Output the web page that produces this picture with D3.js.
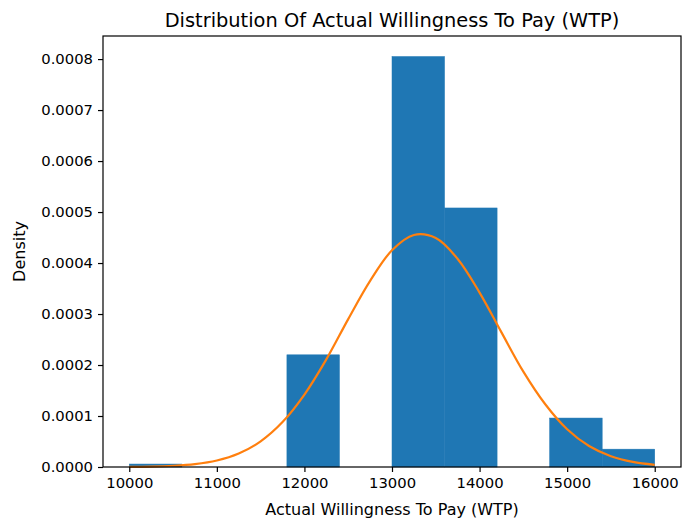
<!DOCTYPE html>
<html>
<head>
<meta charset="utf-8">
<script src="https://cdn.jsdelivr.net/npm/d3@7"></script>
<style>
  body { margin: 0; background: #fff; }
  svg text { font-family: "DejaVu Sans", sans-serif; }
  .tick text { font-size: 14.8px; fill: #000; }
  .tick line, .domain { stroke: #000; }
</style>
</head>
<body>
<div id="chart"></div>
<script>
// histogram bins (edges, width 600) and density heights
var binEdges = [10000, 10600, 11200, 11800, 12400, 13000, 13600, 14200, 14800, 15400, 16000];
var binDensity = [0.0000058, 0, 0, 0.00022, 0, 0.000805, 0.000508, 0, 0.000096, 0.000035];

// orange curve
var curveX = [10000, 10250, 10500, 10750, 11000, 11250, 11500, 11750, 12000, 12250, 12500, 12750,
              13000, 13250, 13500, 13750, 14000, 14250, 14500, 14750, 15000, 15250, 15500, 15750, 16000];
var curveY = [0.0000003, 0.0000009, 0.0000024, 0.0000057, 0.0000128, 0.0000265, 0.0000503, 0.0000881,
              0.000142, 0.000211, 0.000290, 0.000365, 0.000425, 0.000455, 0.000449, 0.000408, 0.000342,
              0.000264, 0.000187, 0.000123, 0.000074, 0.0000411, 0.0000211, 0.0000099, 0.0000043];

var xTicks = [10000, 11000, 12000, 13000, 14000, 15000, 16000];
var yTicks = [0, 0.0001, 0.0002, 0.0003, 0.0004, 0.0005, 0.0006, 0.0007, 0.0008];

var W = 682, H = 519;
var margin = { top: 36, right: 1, bottom: 52, left: 103 };
var width = W - margin.left - margin.right,
    height = H - margin.top - margin.bottom;

var svg = d3.select("#chart").append("svg")
    .attr("width", W).attr("height", H);

var g = svg.append("g")
    .attr("transform", "translate(" + margin.left + "," + margin.top + ")");

// matplotlib-like 5% padding
var xScale = d3.scaleLinear().domain([9700, 16300]).range([0, width]);
var yMax = d3.max(binDensity) * 1.05;
var yScale = d3.scaleLinear().domain([0, yMax]).range([height, 0]);

var bins = binDensity.map(function (d, i) { return { x0: binEdges[i], x1: binEdges[i + 1], v: d }; });

// bars (thin same-colour stroke hides the seam between adjacent bars)
g.selectAll(".bar")
    .data(bins.filter(function (d) { return d.v > 0; }))
    .enter().append("rect")
    .attr("class", "bar")
    .attr("x", function (d) { return xScale(d.x0); })
    .attr("y", function (d) { return yScale(d.v); })
    .attr("width", function (d) { return xScale(d.x1) - xScale(d.x0); })
    .attr("height", function (d) { return height - yScale(d.v); })
    .attr("fill", "#1f77b4")
    .attr("stroke", "#1f77b4")
    .attr("stroke-width", 0.5);

// density curve
var line = d3.line()
    .x(function (d, i) { return xScale(curveX[i]); })
    .y(function (d) { return yScale(d); })
    .curve(d3.curveCatmullRom);

g.append("path")
    .datum(curveY)
    .attr("d", line)
    .attr("fill", "none")
    .attr("stroke", "#ff7f0e")
    .attr("stroke-width", 2.2);

// axes
g.append("g")
    .attr("transform", "translate(0," + height + ")")
    .call(d3.axisBottom(xScale).tickValues(xTicks).tickFormat(d3.format("d")).tickSize(5).tickPadding(5));

g.append("g")
    .call(d3.axisLeft(yScale).tickValues(yTicks).tickFormat(d3.format(".4f")).tickSize(5).tickPadding(5));

g.selectAll(".domain").remove();
g.selectAll(".tick line").attr("stroke-width", 1.2);
g.selectAll(".tick text").attr("font-family", "DejaVu Sans");

// frame
g.append("rect")
    .attr("x", 0).attr("y", 0)
    .attr("width", width).attr("height", height)
    .attr("fill", "none")
    .attr("stroke", "#000")
    .attr("stroke-width", 1.2);

// title and labels
svg.append("text")
    .attr("x", margin.left + width / 2)
    .attr("y", 26.5)
    .attr("text-anchor", "middle")
    .style("font-size", "19.4px")
    .text("Distribution Of Actual Willingness To Pay (WTP)");

svg.append("text")
    .attr("x", margin.left + width / 2)
    .attr("y", 514.5)
    .attr("text-anchor", "middle")
    .style("font-size", "16px")
    .text("Actual Willingness To Pay (WTP)");

svg.append("text")
    .attr("transform", "translate(24.5," + (margin.top + height / 2) + ") rotate(-90)")
    .attr("text-anchor", "middle")
    .style("font-size", "16px")
    .text("Density");
</script>
</body>
</html>
